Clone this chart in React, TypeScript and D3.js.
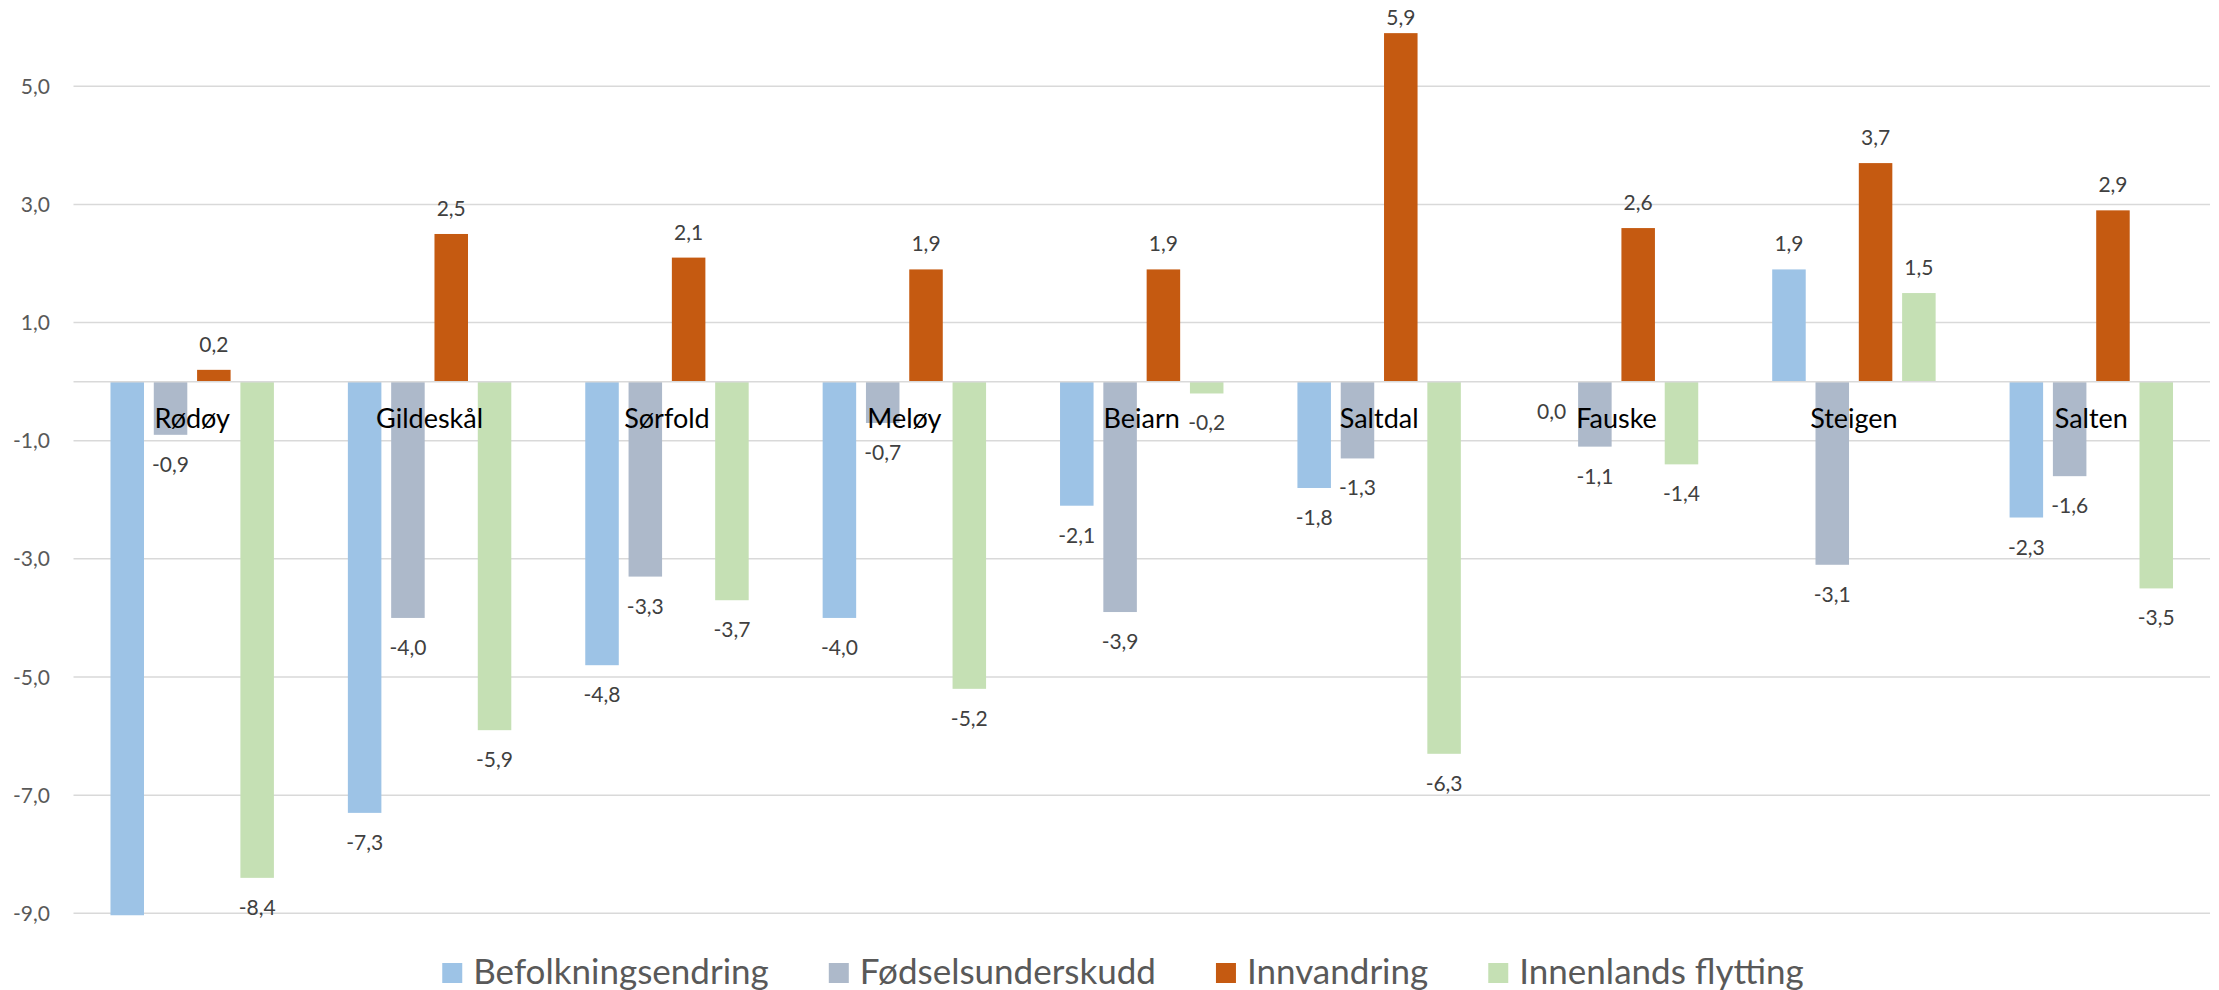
import { useEffect, useRef } from "react";
import * as d3 from "d3";

const categories = ["Rødøy", "Gildeskål", "Sørfold", "Meløy", "Beiarn", "Saltdal", "Fauske", "Steigen", "Salten"];
const seriesNames = ["Befolkningsendring", "Fødselsunderskudd", "Innvandring", "Innenlands flytting"];
const befolkningsendring = [-9.1, -7.3, -4.8, -4.0, -2.1, -1.8, 0.0, 1.9, -2.3];
const fodselsunderskudd = [-0.9, -4.0, -3.3, -0.7, -3.9, -1.3, -1.1, -3.1, -1.6];
const innvandring = [0.2, 2.5, 2.1, 1.9, 1.9, 5.9, 2.6, 3.7, 2.9];
const innenlandsFlytting = [-8.4, -5.9, -3.7, -5.2, -0.2, -6.3, -1.4, 1.5, -3.5];
const yTicks = [5, 3, 1, -1, -3, -5, -7, -9];
const colors = ["#9dc3e6", "#adb9ca", "#c55a11", "#c5e0b4"];

const FONT = "Lato, 'Open Sans', sans-serif";
const fmt = (v: number) => v.toFixed(1).replace(".", ",");

export default function App() {
  const svgRef = useRef<SVGSVGElement>(null);

  useEffect(() => {
    const width = 2219;
    const height = 990;
    const svg = d3.select(svgRef.current).attr("width", width).attr("height", height);
    svg.selectAll("*").remove();

    const allSeries = [befolkningsendring, fodselsunderskudd, innvandring, innenlandsFlytting];

    // scales
    const x0 = d3.scaleBand<string>().domain(categories).range([73.5, 2210]);
    const x1 = d3
      .scaleBand<string>()
      .domain(seriesNames)
      .range([0, x0.bandwidth()])
      .paddingInner(0.226)
      .paddingOuter(0.854);
    const y = d3.scaleLinear().domain([-9, 5]).range([913.3, 86.3]);

    // clip so the Rødøy bar stops at the axis minimum
    svg
      .append("defs")
      .append("clipPath")
      .attr("id", "plot-clip")
      .append("rect")
      .attr("x", 0)
      .attr("y", 0)
      .attr("width", width)
      .attr("height", y(-9) + 2);

    // grid lines
    svg
      .append("g")
      .selectAll("line")
      .data(yTicks)
      .join("line")
      .attr("x1", 73.5)
      .attr("x2", 2210)
      .attr("y1", (d) => y(d))
      .attr("y2", (d) => y(d))
      .attr("stroke", "#d9d9d9")
      .attr("stroke-width", 1.5);

    // y labels
    svg
      .append("g")
      .selectAll("text")
      .data(yTicks)
      .join("text")
      .attr("x", 50)
      .attr("y", (d) => y(d) + 7.5)
      .attr("text-anchor", "end")
      .attr("font-family", FONT)
      .attr("font-size", 21)
      .attr("fill", "#595959")
      .text((d) => fmt(d));

    // bars
    const barData = categories.flatMap((c, i) =>
      seriesNames.map((s, j) => ({ cat: c, series: s, idx: j, value: allSeries[j][i] }))
    );

    svg
      .append("g")
      .attr("clip-path", "url(#plot-clip)")
      .selectAll("rect")
      .data(barData)
      .join("rect")
      .attr("x", (d) => x0(d.cat)! + x1(d.series)!)
      .attr("width", x1.bandwidth())
      .attr("y", (d) => Math.min(y(d.value), y(0)))
      .attr("height", (d) => Math.abs(y(d.value) - y(0)))
      .attr("fill", (d) => colors[d.idx]);

    // zero line on top
    svg
      .append("line")
      .attr("x1", 73.5)
      .attr("x2", 2210)
      .attr("y1", y(0))
      .attr("y2", y(0))
      .attr("stroke", "#d9d9d9")
      .attr("stroke-width", 1.5);

    // data labels (kept inside the top edge like Excel does)
    svg
      .append("g")
      .selectAll("text")
      .data(barData.filter((d) => d.value >= -9))
      .join("text")
      .attr("x", (d) => x0(d.cat)! + x1(d.series)! + x1.bandwidth() / 2)
      .attr("y", (d) => (d.value > 0 ? Math.max(y(d.value) - 18, 25) : y(d.value) + 37))
      .attr("text-anchor", "middle")
      .attr("font-family", FONT)
      .attr("font-size", 21)
      .attr("fill", "#404040")
      .text((d) => fmt(d.value));

    // category labels
    svg
      .append("g")
      .selectAll("text")
      .data(categories)
      .join("text")
      .attr("x", (d) => x0(d)! + x0.bandwidth() / 2)
      .attr("y", y(0) + 46)
      .attr("text-anchor", "middle")
      .attr("font-family", FONT)
      .attr("font-size", 27)
      .attr("fill", "#000000")
      .text((d) => d);

    // legend
    const legend = svg.append("g");
    const items = legend
      .selectAll("g")
      .data(seriesNames)
      .join("g");
    items
      .append("rect")
      .attr("width", 20)
      .attr("height", 20)
      .attr("y", 963)
      .attr("fill", (_, i) => colors[i]);
    items
      .append("text")
      .attr("x", 31)
      .attr("y", 984)
      .attr("font-family", FONT)
      .attr("font-size", 35)
      .attr("fill", "#595959")
      .text((d) => d);

    // lay out legend items from their measured widths
    const gap = 60;
    const widths: number[] = [];
    items.each(function () {
      const t = d3.select(this).select("text").node() as SVGTextElement;
      widths.push(31 + t.getComputedTextLength());
    });
    const total = d3.sum(widths) + gap * (widths.length - 1);
    let cursor = 1123 - total / 2;
    items.attr("transform", (_, i) => {
      const tx = cursor;
      cursor += widths[i] + gap;
      return `translate(${tx},0)`;
    });
  }, []);

  return (
    <svg
      ref={svgRef}
      style={{ position: "absolute", left: 0, top: 0, background: "#ffffff" }}
    ></svg>
  );
}
